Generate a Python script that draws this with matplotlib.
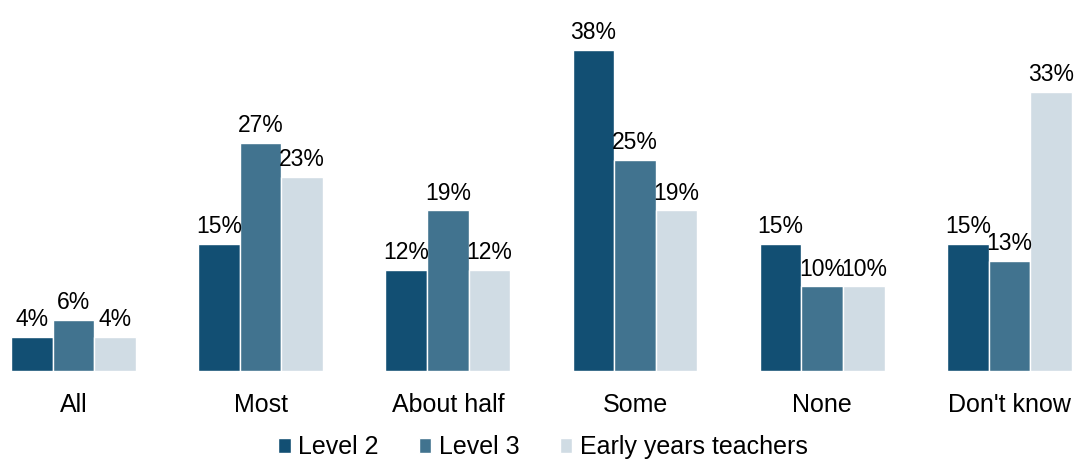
import numpy as np
import matplotlib.pyplot as plt

plt.rcParams['font.family'] = ['Liberation Sans', 'DejaVu Sans']

categories = ["All", "Most", "About half", "Some", "None", "Don't know"]
series = ["Level 2", "Level 3", "Early years teachers"]
level2 = [4, 15, 12, 38, 15, 15]
level3 = [6, 27, 19, 25, 10, 13]
eyt = [4, 23, 12, 19, 10, 33]
colors = ["#124f73", "#41738f", "#d0dce4"]

fig = plt.figure(figsize=(10.75, 4.59), dpi=100)
ax = fig.add_axes([0, 0.1917, 1, 0.8083])

x = np.arange(len(categories))
w = 0.222
for i, (vals, name) in enumerate(zip([level2, level3, eyt], series)):
    pos = x + (i - 1) * w
    bars = ax.bar(pos, vals, width=w, color=colors[i], edgecolor="white", linewidth=1, label=name)
    for b, v in zip(bars, vals):
        ax.text(b.get_x() + b.get_width() / 2, v + 0.7, f"{v}%", ha="center", va="bottom", fontsize=16.5)

ax.set_xlim(-0.392, 5.35)
ax.set_ylim(0, 43.9)
ax.set_xticks(x)
ax.set_xticklabels(categories, fontsize=18)
ax.tick_params(axis="x", length=0, pad=16)
ax.set_yticks([])
for s in ax.spines.values():
    s.set_visible(False)

fig.legend(loc="lower center", bbox_to_anchor=(0.505, -0.05), ncol=3, frameon=False, fontsize=18,
           handlelength=0.5, handleheight=0.5, handletextpad=0.3, columnspacing=1.6)

fig.savefig("out.png", dpi=100)
